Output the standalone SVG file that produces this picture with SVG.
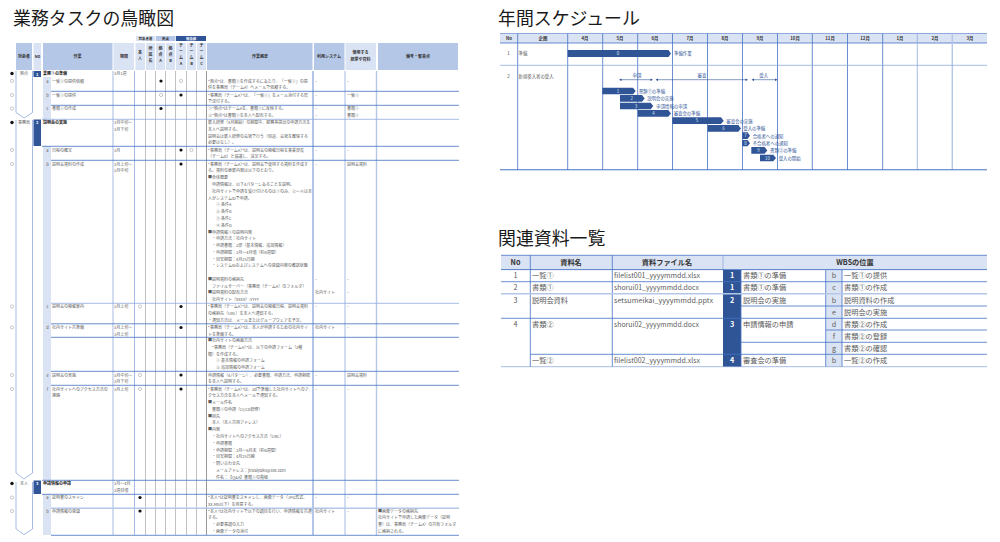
<svg xmlns="http://www.w3.org/2000/svg" width="1000" height="542" viewBox="0 0 1000 542">
<style>
text{font-family:"Noto Sans CJK JP","Noto Sans",sans-serif;fill:#404040}
.title{font-size:17.9px;fill:#1a1a1a}
.t{font-size:4px;fill:#5c5c5c}
.h{font-size:4px;font-weight:700;fill:#333;text-anchor:middle}
.m{text-anchor:middle}
.sec{font-size:4px;font-weight:700;fill:#222}
.w{fill:#fff;font-weight:700;text-anchor:middle}
.l1{stroke:#4472c4;stroke-width:.8;fill:none}
.l2{stroke:#8faadc;stroke-width:.8;fill:none}
.l3{stroke:#b4c7e7;stroke-width:1.4;fill:none}
.g{stroke:#a6a6a6;stroke-width:.7;fill:none}
.hd{fill:#b4c7e7}
.hl{fill:#dae3f3}
.dk{fill:#2f5597}
.on{fill:#111}
.off{fill:#fff;stroke:#8a8a8a;stroke-width:.45}
.chev{fill:#fff;stroke:#8faadc;stroke-width:.8}
.gh{font-size:4.4px;font-weight:700;fill:#333;text-anchor:middle}
.gt{font-size:4.4px;fill:#2f5597}
.gb{font-size:4.4px;fill:#dfe7f5;text-anchor:middle}
.r{font-size:7.2px;fill:#5c5c5c}
.rh{font-size:7.2px;font-weight:700;fill:#333;text-anchor:middle}
.ar{stroke:#2f5597;stroke-width:.6;fill:none}
.arh{fill:#2f5597}
</style>

<g id="task-table">
<text class="title" x="13" y="25">業務タスクの鳥瞰図</text>
<g id="task-header">
<rect class="hl" x="136" y="36" width="19.500" height="5"/><rect class="hd" x="156" y="36" width="19.500" height="5"/><rect class="dk" x="176" y="36" width="30" height="5"/>
<text class="h" x="145.500" y="40" style="font-size:3.4px">対象者層</text><text class="h" x="165.500" y="40" style="font-size:3.4px">拠点</text><text class="w" x="191" y="40" style="font-size:3.4px">担当部</text>
<rect class="hd" x="16" y="43" width="16" height="27"/><rect class="hl" x="33.500" y="43" width="7.500" height="27"/><rect class="hd" x="43" y="43" width="69.500" height="27"/><rect class="hl" x="113.500" y="43" width="20.500" height="27"/>
<rect class="hl" x="135.500" y="43" width="9.500" height="27"/><rect class="hl" x="146" y="43" width="9" height="27"/><rect class="hl" x="156" y="43" width="9" height="27"/><rect class="hl" x="166" y="43" width="9" height="27"/><rect class="hl" x="176" y="43" width="10" height="27"/><rect class="hl" x="187" y="43" width="9" height="27"/><rect class="hl" x="197" y="43" width="9" height="27"/>
<rect class="hd" x="207" y="43" width="105.500" height="27"/><rect class="hd" x="314" y="43" width="30.500" height="27"/><rect class="hl" x="345.500" y="43" width="30.500" height="27"/><rect class="hd" x="378" y="43" width="80" height="27"/>
<text class="h" x="24" y="58">対象者</text><text class="h" x="37.500" y="58">No</text><text class="h" x="77.500" y="58">作業</text><text class="h" x="124" y="58">期間</text>
<text class="h" x="140" y="54">本</text><text class="h" x="140" y="60">人</text>
<text class="h" x="150.500" y="50">所</text><text class="h" x="150.500" y="56">属</text><text class="h" x="150.500" y="62">長</text>
<text class="h" x="160.500" y="50">拠</text><text class="h" x="160.500" y="56">点</text><text class="h" x="160.500" y="62">A</text>
<text class="h" x="170.500" y="50">拠</text><text class="h" x="170.500" y="56">点</text><text class="h" x="170.500" y="62">B</text>
<text class="h" x="181" y="47">チ</text><text class="h" x="181" y="53">ー</text><text class="h" x="181" y="59">ム</text><text class="h" x="181" y="65">A</text>
<text class="h" x="191.500" y="47">チ</text><text class="h" x="191.500" y="53">ー</text><text class="h" x="191.500" y="59">ム</text><text class="h" x="191.500" y="65">B</text>
<text class="h" x="201.500" y="47">チ</text><text class="h" x="201.500" y="53">ー</text><text class="h" x="201.500" y="59">ム</text><text class="h" x="201.500" y="65">C</text>
<text class="h" x="260" y="58">作業概要</text><text class="h" x="329" y="58">利用システム</text><text class="h" x="360.500" y="54">使用する</text><text class="h" x="360.500" y="61">標票や資料</text><text class="h" x="418" y="58">備考・留意点</text>
</g>
<g id="task-fills">
<rect class="hl" x="43" y="77" width="8" height="42"/><rect class="hl" x="43" y="146" width="8" height="334"/><rect class="hl" x="43" y="494" width="8" height="41"/>
<rect class="hl" x="33.500" y="71" width="7.500" height="6" style="fill:#2f5597"/><rect class="dk" x="33.500" y="119.500" width="7.500" height="26.500"/><rect class="dk" x="33.500" y="480.500" width="7.500" height="13.500"/>
<text class="w" x="37.200" y="75.500" style="font-size:4px">1</text><text class="w" x="37.200" y="124" style="font-size:4px">2</text><text class="w" x="37.200" y="485" style="font-size:4px">3</text>
</g>
<g id="task-grid">
<path class="chev" d="M16 71V112.500L24 118L32.500 112.500V71"/><path class="chev" d="M16 120V473L24 479L32.500 473V120"/><path class="chev" d="M16 482V529L24 534.500L32.500 529V482"/>
<path class="l2" d="M113 71V535M134.500 71V535"/>
<path class="g" d="M145.500 71V535M155.500 71V535M165.500 71V535M175.500 71V535M186.500 71V535M196.500 71V535"/>
<path d="M206.500 71V535" stroke="#7f7f7f" stroke-width=".8" fill="none"/>
<path class="l1" d="M313 71V535"/><path class="l2" d="M345 71V535"/><path class="l3" d="M376.500 71V535"/>
<path class="l1" d="M51 91.300H459M51 105.300H459M42 146.300H459M51 160.300H459M51 323.800H459M51 337.300H459M51 371.300H459M51 385.300H459M42 480.300H459M42 494.300H459M51 535.300H459"/>
<path class="l2" d="M42 119.300H459M51 303.300H459"/>
<path class="l3" d="M51 508.300H459"/>
</g>
<g id="task-marks">
<circle class="on" cx="12" cy="73.500" r="1.700"/><circle class="off" cx="12" cy="81" r="1.600"/><circle class="off" cx="12" cy="95" r="1.600"/><circle class="off" cx="12" cy="108.500" r="1.600"/><circle class="on" cx="12" cy="122.500" r="1.700"/><circle class="off" cx="12" cy="150" r="1.600"/><circle class="off" cx="12" cy="164" r="1.600"/><circle class="off" cx="12" cy="306.500" r="1.600"/><circle class="off" cx="12" cy="327.500" r="1.600"/><circle class="off" cx="12" cy="375" r="1.600"/><circle class="off" cx="12" cy="389" r="1.600"/><circle class="on" cx="12" cy="483.500" r="1.700"/><circle class="off" cx="12" cy="497.500" r="1.600"/><circle class="off" cx="12" cy="511" r="1.600"/>
<circle class="on" cx="161" cy="81" r="1.600"/><circle class="off" cx="181" cy="81" r="1.600"/><circle class="off" cx="161" cy="95" r="1.600"/><circle class="on" cx="181" cy="95" r="1.600"/><circle class="on" cx="161" cy="108.500" r="1.600"/><circle class="on" cx="181" cy="150" r="1.600"/><circle class="off" cx="191.500" cy="150" r="1.600"/><circle class="on" cx="181" cy="164" r="1.600"/>
<circle class="off" cx="140" cy="306.500" r="1.600"/><circle class="on" cx="181" cy="306.500" r="1.600"/><circle class="on" cx="181" cy="327.500" r="1.600"/><circle class="off" cx="140" cy="375" r="1.600"/><circle class="on" cx="181" cy="375" r="1.600"/><circle class="off" cx="140" cy="389" r="1.600"/><circle class="on" cx="181" cy="389" r="1.600"/><circle class="on" cx="140" cy="497.500" r="1.600"/><circle class="on" cx="140" cy="511" r="1.600"/>
</g>
<g id="task-left-text" class="t">
<text class="t m" x="24" y="75">拠点</text><text class="t m" x="24" y="124">事務局</text><text class="t m" x="24" y="485">本人</text>
<text class="sec" x="43" y="75">業務①の準備</text><text class="sec" x="43" y="124">説明会の実施</text><text class="sec" x="43" y="485">申請情報の申請</text>
<text class="t m" x="47.500" y="82.500">a</text><text class="t m" x="47.500" y="96.500">b</text><text class="t m" x="47.500" y="110">c</text><text class="t m" x="47.500" y="151.500">a</text><text class="t m" x="47.500" y="165.500">b</text><text class="t m" x="47.500" y="308">c</text><text class="t m" x="47.500" y="329">d</text><text class="t m" x="47.500" y="376.500">e</text><text class="t m" x="47.500" y="390.500">f</text><text class="t m" x="47.500" y="499">a</text><text class="t m" x="47.500" y="512.500">b</text>
<text class="t" x="52" y="82.500">一覧①の提供依頼</text><text class="t" x="52" y="96.500">一覧①の提供</text><text class="t" x="52" y="110">書類①の作成</text><text class="t" x="52" y="151.500">日程の確定</text><text class="t" x="52" y="165.500">説明会資料の作成</text><text class="t" x="52" y="308">説明会の開催案内</text><text class="t" x="52" y="329">社内サイト共準備</text><text class="t" x="52" y="376.500">説明会の実施</text><text class="t" x="52" y="390.500">社内サイトへのアクセス方法の</text><text class="t" x="52" y="397.300">連絡</text><text class="t" x="52" y="499">証明書のスキャン</text><text class="t" x="52" y="512.500">申請情報の登録</text>
<text class="t" x="114" y="75">3月1週</text><text class="t" x="114" y="124">3月中旬～</text><text class="t" x="114" y="131">3月下旬</text><text class="t" x="114" y="151.500">3月</text><text class="t" x="114" y="165.500">3月上旬～</text><text class="t" x="114" y="172.300">3月中旬</text><text class="t" x="114" y="308">3月上旬</text><text class="t" x="114" y="329">3月上旬～</text><text class="t" x="114" y="335.800">3月上旬</text><text class="t" x="114" y="376.500">3月中旬～</text><text class="t" x="114" y="383.300">3月下旬</text><text class="t" x="114" y="390.500">3月上旬</text><text class="t" x="114" y="485">3月～4月</text><text class="t" x="114" y="492">2週目頃</text>
</g>
<g id="task-summary">
<text class="t" x="208" y="82.500">“拠点”は、書類①を作成するにあたり、「一覧①」の提</text><text class="t" x="208" y="89.300">供を事務局（チームA）へメールで依頼する。</text>
<text class="t" x="208" y="96.500">“事務局（チームA）”は、「一覧①」をメール添付する形</text><text class="t" x="208" y="103.300">で送付する。</text>
<text class="t" x="208" y="110">①“拠点”はチームAを、書類①に反映する。</text><text class="t" x="208" y="116.800">②“拠点”は書類①を本人へ配布する。</text>
<text class="t" x="208" y="124">新入研修（4月開始）の期間中、服務等提出の申請方法を</text><text class="t" x="208" y="130.800">本人へ説明する。</text><text class="t" x="208" y="137.600">説明会は新人研修の会場で行う（別途、会場を確保する</text><text class="t" x="208" y="144.400">必要はなし）。</text>
<text class="t" x="208" y="151.500">“事務局（チームA）”は、説明会の開催日程を事業部長</text><text class="t" x="208" y="158.300">（チームB）と協議し、決定する。</text>
<text class="t" x="208" y="165.500">“事務局（チームA）”は、説明会で使用する資料を作成す</text><text class="t" x="208" y="172.300">る。資料の更新内容は以下のとおり。</text>
<text class="t" x="208" y="179.200">■全体概要</text><text class="t" x="212" y="186">申請情報は、以下4パターンあることを説明。</text><text class="t" x="212" y="192.800">社内サイトで申請を受け付けるのは①のみ、②～④は本</text><text class="t" x="208" y="199.600">人がシステムIDで申請。</text>
<text class="t" x="216" y="206.400">① 条件A</text><text class="t" x="216" y="213.200">② 条件B</text><text class="t" x="216" y="220">③ 条件C</text><text class="t" x="216" y="226.800">④ 条件D</text>
<text class="t" x="208" y="233.500">■申請情報①の説明内容</text><text class="t" x="212" y="240.200">・申請方法：社内サイト</text><text class="t" x="212" y="247">・申請書類：2部（基本情報、追加情報）</text><text class="t" x="212" y="253.800">・申請期間：3月～4月頃（約4週間）</text><text class="t" x="212" y="260.600">・目安期間：4月25日締</text><text class="t" x="212" y="267.400">・システムIDおよびシステムへの登録内容の確認状態</text>
<text class="t" x="208" y="280.800">■説明資料の格納先</text><text class="t" x="212" y="287.500">ファイルサーバー（事務局（チームA）のフォルダ）</text><text class="t" x="208" y="294.200">■説明資料の配布方法</text><text class="t" x="212" y="301">社内サイト（XXXX）:YYYY</text>
<text class="t" x="208" y="308">“事務局（チームA）”は、説明会の開催日程、説明会資料</text><text class="t" x="208" y="314.800">の格納先（URL）を本人へ通知する。</text><text class="t" x="208" y="321.600">・通知方法は、メールまたはグループウェアを予定。</text>
<text class="t" x="208" y="329">“事務局（チームA）”は、本人が申請するための社内サイ</text><text class="t" x="208" y="335.800">トを準備する。</text><text class="t" x="208" y="342">■社内サイトの画面方法</text><text class="t" x="212" y="348.800">“事務局（チームA）”は、以下の申請フォーム（2種</text><text class="t" x="208" y="355.600">類）を作成する。</text><text class="t" x="216" y="362.400">① 基本情報の申請フォーム</text><text class="t" x="216" y="369.200">② 追加情報の申請フォーム</text>
<text class="t" x="208" y="376.500">申請情報（4パターン）、必要書類、申請方法、申請期限</text><text class="t" x="208" y="383.300">を本人へ説明する。</text>
<text class="t" x="208" y="390.500">“事務局（チームA）”は、2dで準備した社内サイトへのア</text><text class="t" x="208" y="397.300">クセス方法を本人へメールで通知する。</text><text class="t" x="208" y="404">■メール件名</text><text class="t" x="212" y="410.800">書類①の申請（CI/CD研修）</text><text class="t" x="208" y="417.600">■宛先</text><text class="t" x="212" y="424.400">本人（本人共用アドレス）</text><text class="t" x="208" y="431.200">■内容</text><text class="t" x="212" y="438">・社内サイトへのアクセス方法（URL）</text><text class="t" x="212" y="444.800">・申請書類</text><text class="t" x="212" y="451.600">・申請期間：3月～6月末（約6週間）</text><text class="t" x="212" y="458.400">・目安期間：4月25日締</text><text class="t" x="212" y="465.200">・問い合わせ先</text><text class="t" x="216" y="472">メールアドレス：jinzaiyoku@xxx.com</text><text class="t" x="216" y="478.800">件名：【Q&amp;A】書類①の質疑</text>
<text class="t" x="208" y="499">“本人”は証明書をスキャンし、画像データ（JPG形式、</text><text class="t" x="208" y="505.800">XX.MB以下）を用意する。</text>
<text class="t" x="208" y="512.500">“本人”は社内サイトで以下の項目を行い、申請情報を共通</text><text class="t" x="208" y="519.300">する。</text><text class="t" x="212" y="526.100">・必要事項の入力</text><text class="t" x="212" y="532.900">・画像データの添付</text>
</g>
<g id="task-system-docs">
<text class="t" x="315" y="82.500">–</text><text class="t" x="347" y="82.500">–</text><text class="t" x="315" y="96.500">–</text><text class="t" x="347" y="96.500">一覧①</text><text class="t" x="315" y="110">–</text><text class="t" x="347" y="110">書類①</text><text class="t" x="315" y="116.800">–</text><text class="t" x="347" y="116.800">書類①</text><text class="t" x="315" y="151.500">–</text><text class="t" x="347" y="151.500">–</text><text class="t" x="315" y="165.500">–</text><text class="t" x="347" y="165.500">説明会資料</text>
<text class="t" x="315" y="280.800">–</text><text class="t" x="347" y="280.800">–</text><text class="t" x="315" y="294.200">社内サイト</text><text class="t" x="347" y="294.200">–</text><text class="t" x="315" y="308">–</text><text class="t" x="347" y="308">–</text><text class="t" x="315" y="329">社内サイト</text><text class="t" x="347" y="329">–</text><text class="t" x="315" y="376.500">–</text><text class="t" x="347" y="376.500">説明会資料</text><text class="t" x="315" y="390.500">–</text><text class="t" x="347" y="390.500">–</text><text class="t" x="315" y="499">–</text><text class="t" x="347" y="499">–</text><text class="t" x="315" y="512.500">社内サイト</text><text class="t" x="347" y="512.500">–</text>
<text class="t" x="378" y="512.500">■画像データの格納先</text><text class="t" x="378" y="519.300">社内サイトで申請した画像データ（証明</text><text class="t" x="378" y="526.100">書）は、事務局（チームA）の共有フォルダ</text><text class="t" x="378" y="532.900">に格納される。</text>
</g>
</g>

<g id="schedule">
<text class="title" x="498" y="25">年間スケジュール</text>
<rect class="hl" x="500" y="33.500" width="487" height="9.500"/>
<path d="M500 33.500H987" stroke="#8faadc" stroke-width="1.200"/><path d="M500 43H987" class="l1"/>
<path class="l1" d="M517.700 33.500V170M567.700 33.500V170M602.700 33.500V170M637.700 33.500V170M672.500 33.500V170M707.500 33.500V170M742.500 33.500V170M777.500 33.500V170M812.300 33.500V170M847.500 33.500V170M882.700 33.500V170"/>
<path class="l2" d="M917.300 33.500V170"/><path class="l3" d="M952.300 33.500V170"/>
<path class="l2" d="M500 65.300H987"/><path d="M500 169.800H987" stroke="#4472c4" stroke-width="1.100"/>
<g id="schedule-head"><text class="gh" x="509" y="39.800">No</text><text class="gh" x="543" y="39.800">企画</text><text class="gh" x="585" y="39.800">4月</text><text class="gh" x="620" y="39.800">5月</text><text class="gh" x="655" y="39.800">6月</text><text class="gh" x="690" y="39.800">7月</text><text class="gh" x="725" y="39.800">8月</text><text class="gh" x="760" y="39.800">9月</text><text class="gh" x="795" y="39.800">10月</text><text class="gh" x="830" y="39.800">11月</text><text class="gh" x="865" y="39.800">12月</text><text class="gh" x="900" y="39.800">1月</text><text class="gh" x="935" y="39.800">2月</text><text class="gh" x="970" y="39.800">3月</text></g>
<text class="gh" x="508.500" y="55.300" style="font-weight:400">1</text><text class="t" x="518.500" y="55.300" style="font-size:4.400px">準備</text>
<text class="gh" x="508.500" y="77.600" style="font-weight:400">2</text><text class="t" x="518.500" y="77.600" style="font-size:4.400px">新規参入者の受入</text>
<g id="schedule-arrows">
<path class="ar" d="M620 79.700H652M656.500 79.700H747M752.500 79.700H776.500"/>
<path class="arh" d="M619 79.700l2.500-1.300v2.600zM653 79.700l-2.500-1.300v2.600zM655.500 79.700l2.500-1.300v2.600zM748 79.700l-2.500-1.300v2.600zM751.500 79.700l2.500-1.300v2.600zM777.500 79.700l-2.500-1.300v2.600z"/>
<text class="gt m" x="637" y="77">申請</text><text class="gt m" x="702" y="77">審査</text><text class="gt m" x="763.700" y="77">受入</text>
</g>
<g id="bar-0"><polygon class="dk" points="567.700,50 668.500,50 671,53.500 668.500,57 567.700,57"/><text class="gb" x="618" y="55.200">0</text><text class="gt" x="674" y="55.200">準備作業</text></g>
<g id="bar-1"><polygon class="dk" points="602.300,87.700 633,87.700 635.700,91 633,94.300 602.300,94.300"/><text class="gb" x="618" y="92.600">1</text><text class="gt" x="638.700" y="92.600">書類①の準備</text></g>
<g id="bar-2"><polygon class="dk" points="620,95 642,95 644.700,98.400 642,101.700 620,101.700"/><text class="gb" x="631.700" y="100">2</text><text class="gt" x="647.300" y="100">説明会の実施</text></g>
<g id="bar-3"><polygon class="dk" points="620,102.700 650.600,102.700 653.300,106 650.600,109.300 620,109.300"/><text class="gb" x="636" y="107.600">3</text><text class="gt" x="656.300" y="107.600">申請情報の申請</text></g>
<g id="bar-4"><polygon class="dk" points="637.700,110 668.300,110 671,113.400 668.300,116.700 637.700,116.700"/><text class="gb" x="653.500" y="115">4</text><text class="gt" x="673.700" y="115.300">審査会の準備</text></g>
<g id="bar-5"><polygon class="dk" points="672.300,117.300 721,117.300 723.700,120.700 721,124 672.300,124"/><text class="gb" x="697" y="122.300">5</text><text class="gt" x="726.300" y="122.500">審査会の実施</text></g>
<g id="bar-6"><polygon class="dk" points="707.700,125 738.300,125 741,128.400 738.300,131.700 707.700,131.700"/><text class="gb" x="723.500" y="130">6</text><text class="gt" x="743.300" y="130">受入の準備</text></g>
<g id="bar-7"><polygon class="dk" points="742.300,132.300 747.500,132.300 750,135.700 747.500,139 742.300,139"/><text class="gb" x="745.500" y="137.300">7</text><text class="gt" x="752.700" y="137.500">合格者への通知</text></g>
<g id="bar-8"><polygon class="dk" points="742.300,140 747.500,140 750,143.200 747.500,146.300 742.300,146.300"/><text class="gb" x="745.500" y="144.800">8</text><text class="gt" x="752.700" y="144.800">不合格者への通知</text></g>
<g id="bar-9"><polygon class="dk" points="751.300,147 764.600,147 767.300,150.400 764.600,153.700 751.300,153.700"/><text class="gb" x="758.500" y="152">9</text><text class="gt" x="770" y="152.200">書類②の準備</text></g>
<g id="bar-10"><polygon class="dk" points="760,154.700 773.300,154.700 776,158 773.300,161.300 760,161.300"/><text class="gb" x="767.500" y="159.600">10</text><text class="gt" x="778.700" y="159.600">受入の開始</text></g>
</g>

<g id="materials">
<text class="title" x="498" y="245">関連資料一覧</text>
<rect class="hl" x="501" y="255.500" width="486" height="14"/>
<rect class="dk" x="723" y="270" width="18" height="97"/>
<rect class="hl" x="826" y="270" width="16" height="97"/>
<path class="l1" d="M501 255.300H987M530.300 255.300V367M612.300 255.300V367M741 270V367M825.700 270V367M842 270V367"/>
<path class="l2" d="M723 255.300V270"/>
<path d="M501 269.600H987" stroke="#4472c4" stroke-width=".9"/>
<path class="l1" d="M501 281.700H987M501 318.300H987M530.300 354.300H987M741 306H987M741 342.300H987M825.700 330H987"/>
<path class="l3" d="M501 293.700H987"/>
<path class="l2" d="M501 366.700H987"/>
<text class="rh" x="515.500" y="265">No</text><text class="rh" x="571" y="265">資料名</text><text class="rh" x="667" y="265">資料ファイル名</text><text class="rh" x="855" y="265">WBSの位置</text>
<g id="materials-1"><text class="r m" x="515.500" y="278">1</text><text class="r" x="532" y="278">一覧①</text><text class="r" x="614" y="278" textLength="86" lengthAdjust="spacingAndGlyphs">filelist001_yyyymmdd.xlsx</text><text class="w" x="732" y="278" style="font-size:7.2px">1</text><text class="r" x="743" y="278">書類①の準備</text><text class="r m" x="834" y="278">b</text><text class="r" x="844" y="278">一覧①の提供</text></g>
<g id="materials-2"><text class="r m" x="515.500" y="290">2</text><text class="r" x="532" y="290">書類①</text><text class="r" x="614" y="290" textLength="85" lengthAdjust="spacingAndGlyphs">shorui01_yyyymmdd.docx</text><text class="w" x="732" y="290" style="font-size:7.2px">1</text><text class="r" x="743" y="290">書類①の準備</text><text class="r m" x="834" y="290">c</text><text class="r" x="844" y="290">書類①の作成</text></g>
<g id="materials-3"><text class="r m" x="515.500" y="302.500">3</text><text class="r" x="532" y="302.500">説明会資料</text><text class="r" x="614" y="302.500" textLength="99" lengthAdjust="spacingAndGlyphs">setsumeikai_yyyymmdd.pptx</text><text class="w" x="732" y="302.500" style="font-size:7.2px">2</text><text class="r" x="743" y="302.500">説明会の実施</text><text class="r m" x="834" y="302.500">b</text><text class="r" x="844" y="302.500">説明資料の作成</text><text class="r m" x="834" y="314.500">e</text><text class="r" x="844" y="314.500">説明会の実施</text></g>
<g id="materials-4"><text class="r m" x="515.500" y="326.500">4</text><text class="r" x="532" y="326.500">書類②</text><text class="r" x="614" y="326.500" textLength="85" lengthAdjust="spacingAndGlyphs">shorui02_yyyymmdd.docx</text><text class="w" x="732" y="326.500" style="font-size:7.2px">3</text><text class="r" x="743" y="326.500">申請情報の申請</text><text class="r m" x="834" y="326.500">d</text><text class="r" x="844" y="326.500">書類②の作成</text><text class="r m" x="834" y="338.500">f</text><text class="r" x="844" y="338.500">書類②の登録</text><text class="r m" x="834" y="350.500">g</text><text class="r" x="844" y="350.500">書類②の確認</text></g>
<g id="materials-5"><text class="r" x="532" y="363">一覧②</text><text class="r" x="614" y="363" textLength="86" lengthAdjust="spacingAndGlyphs">filelist002_yyyymmdd.xlsx</text><text class="w" x="732" y="363" style="font-size:7.2px">4</text><text class="r" x="743" y="363">審査会の準備</text><text class="r m" x="834" y="363">b</text><text class="r" x="844" y="363">一覧②の作成</text></g>
</g>
</svg>
